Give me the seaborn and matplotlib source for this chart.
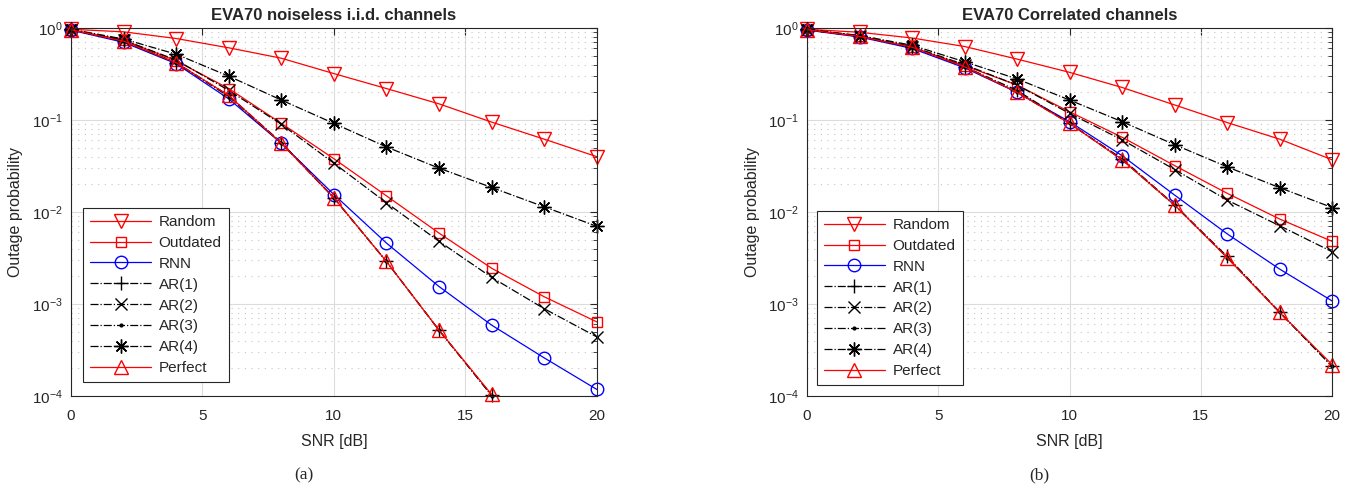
import numpy as np
import pandas as pd
import matplotlib
matplotlib.use('Agg')
import matplotlib.pyplot as plt
import seaborn as sns

# 数据
snr = [0, 2, 4, 6, 8, 10, 12, 14, 16, 18, 20]
nan = np.nan

# (a) EVA70 noiseless i.i.d. channels
random_a = [0.97, 0.91, 0.77, 0.61, 0.47, 0.32, 0.22, 0.15, 0.095, 0.062, 0.040]
outdated_a = [0.96, 0.74, 0.44, 0.22, 0.092, 0.038, 0.015, 0.0059, 0.00245, 0.0012, 0.00064]
rnn_a = [0.95, 0.70, 0.41, 0.17, 0.056, 0.0155, 0.0046, 0.00155, 0.00059, 0.00026, 0.000118]
ar1_a = [0.96, 0.72, 0.42, 0.185, 0.057, 0.0143, 0.0029, 0.00052, 0.000102, nan, nan]
ar2_a = [0.96, 0.74, 0.45, 0.21, 0.090, 0.034, 0.0126, 0.0048, 0.00195, 0.00089, 0.00044]
ar3_a = [0.96, 0.72, 0.42, 0.18, 0.056, 0.0142, 0.0029, 0.00052, 0.000101, nan, nan]
ar4_a = [0.97, 0.76, 0.52, 0.30, 0.165, 0.092, 0.051, 0.030, 0.0185, 0.0114, 0.0070]
perfect_a = [0.96, 0.72, 0.42, 0.185, 0.056, 0.0143, 0.0029, 0.00052, 0.000104, nan, nan]

# (b) EVA70 Correlated channels
random_b = [0.97, 0.90, 0.78, 0.63, 0.46, 0.33, 0.226, 0.146, 0.094, 0.062, 0.037]
outdated_b = [0.96, 0.82, 0.62, 0.39, 0.24, 0.123, 0.065, 0.032, 0.016, 0.0084, 0.0048]
rnn_b = [0.95, 0.80, 0.60, 0.37, 0.20, 0.096, 0.041, 0.0153, 0.0058, 0.0024, 0.00108]
ar1_b = [0.96, 0.81, 0.62, 0.38, 0.21, 0.092, 0.038, 0.0120, 0.0033, 0.00082, 0.00021]
ar2_b = [0.96, 0.82, 0.63, 0.40, 0.24, 0.118, 0.061, 0.029, 0.0135, 0.0071, 0.0037]
ar3_b = [0.96, 0.81, 0.62, 0.38, 0.20, 0.092, 0.037, 0.0118, 0.0032, 0.00081, 0.00021]
ar4_b = [0.97, 0.83, 0.65, 0.43, 0.28, 0.165, 0.096, 0.054, 0.031, 0.0184, 0.0112]
perfect_b = [0.96, 0.81, 0.62, 0.38, 0.20, 0.092, 0.037, 0.0119, 0.0032, 0.00081, 0.00022]

names = ['Random', 'Outdated', 'RNN', 'AR(1)', 'AR(2)', 'AR(3)', 'AR(4)', 'Perfect']
series_a = [random_a, outdated_a, rnn_a, ar1_a, ar2_a, ar3_a, ar4_a, perfect_a]
series_b = [random_b, outdated_b, rnn_b, ar1_b, ar2_b, ar3_b, ar4_b, perfect_b]

# 样式: 颜色, 标记, 线型, 标记大小
styles = {
    'Random': ('red', 'v', '-', 10),
    'Outdated': ('red', 's', '-', 7.5),
    'RNN': ('blue', 'o', '-', 9),
    'AR(1)': ('black', '+', '-.', 10),
    'AR(2)': ('black', 'x', '-.', 8),
    'AR(3)': ('black', '.', '-.', 4),
    'AR(4)': ('black', (8, 2, 0), '-.', 10),
    'Perfect': ('red', '^', '-', 10),
}

sns.set_style('white')
plt.rcParams['font.family'] = ['Liberation Sans', 'DejaVu Sans']
plt.rcParams['mathtext.fontset'] = 'custom'
plt.rcParams['mathtext.rm'] = 'Liberation Sans'
axis_color = '#262626'

fig = plt.figure(figsize=(13.55, 4.88), dpi=100)
ax_a = fig.add_axes([0.0524, 0.1885, 0.388, 0.754])
ax_b = fig.add_axes([0.5956, 0.1885, 0.3875, 0.754])


def draw_panel(ax, series, title, legend_anchor):
    for name, vals in zip(names, series):
        color, marker, ls, ms = styles[name]
        df = pd.DataFrame({'snr': snr, 'p': vals})
        sns.lineplot(data=df, x='snr', y='p', ax=ax, color=color, marker=marker,
                     linestyle=ls, linewidth=0.9, markersize=ms,
                     markerfacecolor='none' if marker not in ['.'] else color,
                     markeredgecolor=color, markeredgewidth=1.0,
                     label=name, clip_on=False)
    ax.set_yscale('log')
    ax.set_ylim(1e-4, 1)
    ax.set_xlim(0, 20)
    ax.set_xticks([0, 5, 10, 15, 20])
    ax.set_yticks([1e-4, 1e-3, 1e-2, 1e-1, 1])
    ax.grid(True, which='major', color='#dcdcdc', linewidth=0.8, linestyle='-')
    ax.grid(True, which='minor', axis='y', color='#c4c4c4', linewidth=0.8,
            linestyle=(0, (1, 5)))
    ax.set_axisbelow(True)
    ax.tick_params(which='both', direction='in', top=True, right=True,
                   colors=axis_color, labelsize=11)
    ax.tick_params(which='major', length=5, width=0.8)
    ax.tick_params(which='minor', length=3, width=0.6)
    ax.tick_params(axis='x', which='major', pad=9)
    ax.tick_params(axis='y', which='major', pad=6)
    ax.tick_params(axis='x', which='minor', bottom=False, top=False)
    for sp in ax.spines.values():
        sp.set_color(axis_color)
        sp.set_linewidth(0.8)
    ax.set_xlabel('SNR [dB]', fontsize=11.5, color=axis_color, labelpad=8)
    ax.set_ylabel('Outage probability', fontsize=11.5, color=axis_color, labelpad=6)
    ax.set_title(title, fontsize=12, fontweight='bold', pad=6)
    leg = ax.legend(loc='lower left', bbox_to_anchor=legend_anchor, borderaxespad=0,
                    fontsize=11, handlelength=4.0, handletextpad=0.5,
                    labelspacing=0.45, borderpad=0.45, fancybox=False,
                    framealpha=1, edgecolor=axis_color)
    leg.get_frame().set_linewidth(0.8)


draw_panel(ax_a, series_a, 'EVA70 noiseless i.i.d. channels', (0.023, 0.038))
draw_panel(ax_b, series_b, 'EVA70 Correlated channels', (0.019, 0.03))

# 子图编号
fig.text(304 / 1355, 1 - 475 / 488, '(a)', ha='center', va='center',
         fontsize=12.5, family='Liberation Serif')
fig.text(1039 / 1355, 1 - 475 / 488, '(b)', ha='center', va='center',
         fontsize=12.5, family='Liberation Serif')

fig.savefig('out.png', dpi=100)
